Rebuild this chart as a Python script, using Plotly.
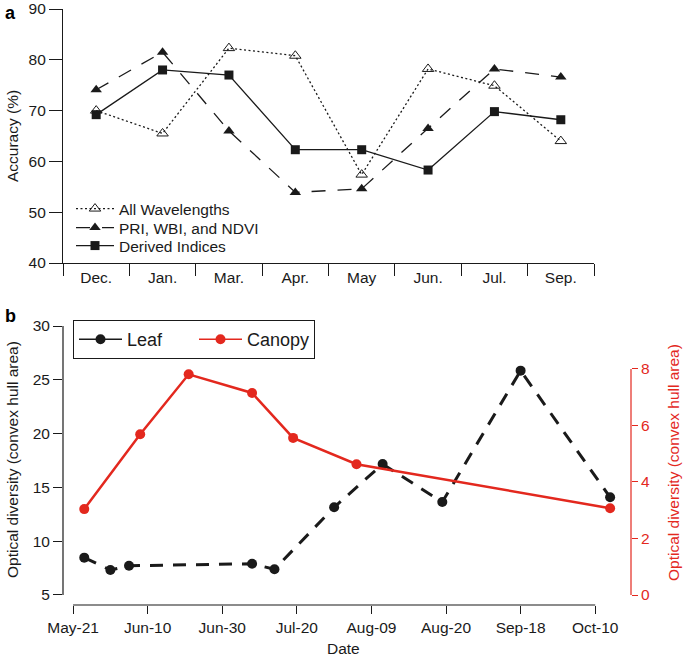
import plotly.graph_objects as go

# ---------------- Panel a data ----------------
months = ["Dec.", "Jan.", "Mar.", "Apr.", "May", "Jun.", "Jul.", "Sep."]
all_wavelengths = [70.0, 65.5, 82.3, 80.8, 57.4, 78.2, 74.9, 64.0]
pri_wbi_ndvi = [74.1, 81.5, 66.0, 53.9, 54.6, 66.5, 78.2, 76.6]
derived_indices = [69.2, 78.0, 77.0, 62.3, 62.3, 58.3, 69.8, 68.2]
acc_ticks = [40, 50, 60, 70, 80, 90]

# ---------------- Panel b data ----------------
date_tickvals = [141, 161, 181, 201, 221, 241, 261, 281]
date_ticktext = ["May-21", "Jun-10", "Jun-30", "Jul-20", "Aug-09", "Aug-20", "Sep-18", "Oct-10"]
leaf_day = [144, 151, 156, 189, 195, 211, 224, 240, 261, 285]
leaf_div = [8.47, 7.32, 7.72, 7.9, 7.39, 13.15, 17.17, 13.64, 25.85, 14.08]
canopy_day = [144, 159, 172, 189, 200, 217, 285]
canopy_div = [3.04, 5.69, 7.81, 7.15, 5.56, 4.63, 3.07]
leaf_ticks = [5, 10, 15, 20, 25, 30]
canopy_ticks = [0, 2, 4, 6, 8]

W, H = 685, 657
FONT = "Liberation Sans, Arial, Helvetica, sans-serif"
RED = "#e3281e"
INK = "#1a1a1a"


def px_x(p):
    return p / W


def px_y(p):
    return 1 - p / H


fig = go.Figure()

# ---- Panel a traces ----
fig.add_trace(go.Scatter(
    x=months, y=all_wavelengths, name="All Wavelengths", mode="lines+markers",
    line=dict(color=INK, width=1.3, dash="2px,2.5px"),
    marker=dict(symbol="triangle-up-open", size=10, color=INK, line=dict(width=1)),
    xaxis="x", yaxis="y", legend="legend"))
fig.add_trace(go.Scatter(
    x=months, y=pri_wbi_ndvi, name="PRI, WBI, and NDVI", mode="lines+markers",
    line=dict(color=INK, width=1.3, dash="14px,12px"),
    marker=dict(symbol="triangle-up", size=10, color=INK),
    xaxis="x", yaxis="y", legend="legend3"))
fig.add_trace(go.Scatter(
    x=months, y=derived_indices, name="Derived Indices", mode="lines+markers",
    line=dict(color=INK, width=1.3),
    marker=dict(symbol="square", size=9, color=INK),
    xaxis="x", yaxis="y", legend="legend4"))

# ---- Panel b traces ----
fig.add_trace(go.Scatter(
    x=leaf_day, y=leaf_div, name="Leaf", mode="lines+markers",
    line=dict(color=INK, width=3, dash="13px,10px"),
    marker=dict(symbol="circle", size=10, color=INK),
    xaxis="x2", yaxis="y2", showlegend=False))
fig.add_trace(go.Scatter(
    x=canopy_day, y=canopy_div, name="Canopy", mode="lines+markers",
    line=dict(color=RED, width=2.5),
    marker=dict(symbol="circle", size=10, color=RED),
    xaxis="x2", yaxis="y3", showlegend=False))
# legend-only entries for panel b (solid symbols as in reference)
fig.add_trace(go.Scatter(
    x=[None], y=[None], name="Leaf", mode="lines+markers",
    line=dict(color=INK, width=1.5),
    marker=dict(symbol="circle", size=10, color=INK),
    xaxis="x2", yaxis="y2", legend="legend2"))
fig.add_trace(go.Scatter(
    x=[None], y=[None], name="Canopy", mode="lines+markers",
    line=dict(color=RED, width=1.5),
    marker=dict(symbol="circle", size=10, color=RED),
    xaxis="x2", yaxis="y2", legend="legend2"))

TS = 15.5
tickfont = dict(family=FONT, size=TS, color=INK)


def small_legend(center_y):
    return dict(
        x=px_x(71), y=px_y(center_y), xanchor="left", yanchor="middle",
        bgcolor="rgba(0,0,0,0)", borderwidth=0,
        font=dict(family=FONT, size=15.5, color=INK), itemwidth=38)


fig.update_layout(
    width=W, height=H,
    margin=dict(l=0, r=0, t=0, b=0, pad=0, autoexpand=False),
    paper_bgcolor="white", plot_bgcolor="white",
    font=dict(family=FONT, color=INK),
    xaxis=dict(
        domain=[px_x(63), px_x(594)], anchor="y",
        type="category", categoryorder="array", categoryarray=months,
        range=[-0.5, len(months) - 0.5],
        tickson="boundaries", ticks="outside", ticklen=12, tickwidth=1.2, tickcolor=INK,
        ticklabelstandoff=0,
        showline=True, linecolor=INK, linewidth=1.2,
        showgrid=False, zeroline=False, tickfont=tickfont),
    yaxis=dict(
        domain=[px_y(263), px_y(9)], anchor="x",
        range=[40, 90], tickvals=acc_ticks,
        ticks="outside", ticklen=13, tickwidth=1.2, tickcolor=INK,
        showline=True, linecolor=INK, linewidth=1.2,
        showgrid=False, zeroline=False, tickfont=tickfont),
    xaxis2=dict(
        domain=[px_x(63), px_x(631)], anchor="y2",
        range=[138.3, 290.6], tickvals=date_tickvals, ticktext=date_ticktext,
        ticks="outside", ticklen=8, tickwidth=1.2, tickcolor=INK,
        showline=False, showgrid=False, zeroline=False,
        tickfont=tickfont),
    yaxis2=dict(
        domain=[px_y(605), px_y(326)], anchor="x2",
        range=[4.07, 30], tickvals=leaf_ticks,
        ticks="outside", ticklen=9, tickwidth=1.2, tickcolor=INK,
        showline=False, showgrid=False, zeroline=False,
        tickfont=tickfont),
    yaxis3=dict(
        overlaying="y2", side="right", anchor="x2",
        range=[-0.354, 9.52], tickvals=canopy_ticks,
        ticks="outside", ticklen=6, tickwidth=1.2, tickcolor=RED,
        showline=False, showgrid=False, zeroline=False,
        tickfont=dict(family=FONT, size=TS, color=RED)),
    legend=small_legend(209),
    legend3=small_legend(228),
    legend4=small_legend(246),
    legend2=dict(
        x=px_x(73), y=px_y(320), xanchor="left", yanchor="top",
        orientation="h", bgcolor="white", bordercolor=INK, borderwidth=1,
        font=dict(family=FONT, size=18, color=INK),
        itemwidth=43, entrywidth=62),
    shapes=[
        # panel b axis lines (R-style, spanning first to last tick)
        dict(type="line", xref="x2", yref="y2 domain",
             x0=date_tickvals[0], x1=date_tickvals[-1], y0=0, y1=0,
             line=dict(color=INK, width=1.2)),
        dict(type="line", xref="x2 domain", yref="y2",
             x0=0, x1=0, y0=leaf_ticks[0], y1=leaf_ticks[-1],
             line=dict(color=INK, width=1.2)),
        dict(type="line", xref="x2 domain", yref="y3",
             x0=1, x1=1, y0=canopy_ticks[0], y1=canopy_ticks[-1],
             line=dict(color=RED, width=1.2)),
    ],
    annotations=[
        dict(text="<b>a</b>", x=px_x(3), y=px_y(1), xref="paper", yref="paper",
             xanchor="left", yanchor="top", showarrow=False,
             font=dict(family=FONT, size=18, color="black")),
        dict(text="<b>b</b>", x=px_x(3), y=px_y(304), xref="paper", yref="paper",
             xanchor="left", yanchor="top", showarrow=False,
             font=dict(family=FONT, size=18, color="black")),
        dict(text="Accuracy (%)", x=px_x(12), y=px_y(136), xref="paper", yref="paper",
             xanchor="center", yanchor="middle", textangle=-90, showarrow=False,
             font=dict(family=FONT, size=TS, color=INK)),
        dict(text="Optical diversity (convex hull area)", x=px_x(12), y=px_y(460),
             xref="paper", yref="paper", xanchor="center", yanchor="middle",
             textangle=-90, showarrow=False,
             font=dict(family=FONT, size=TS, color=INK)),
        dict(text="Optical diversity (convex hull area)", x=px_x(673), y=px_y(463),
             xref="paper", yref="paper", xanchor="center", yanchor="middle",
             textangle=-90, showarrow=False,
             font=dict(family=FONT, size=TS, color=RED)),
        dict(text="Date", x=px_x(343), y=px_y(648), xref="paper", yref="paper",
             xanchor="center", yanchor="middle", showarrow=False,
             font=dict(family=FONT, size=TS, color=INK)),
    ],
)

# remove the browser's default 8px page margin so the figure fills the window
fig.write_html("out.html", config={"displayModeBar": False},
               post_script="document.body.style.margin='0';")
